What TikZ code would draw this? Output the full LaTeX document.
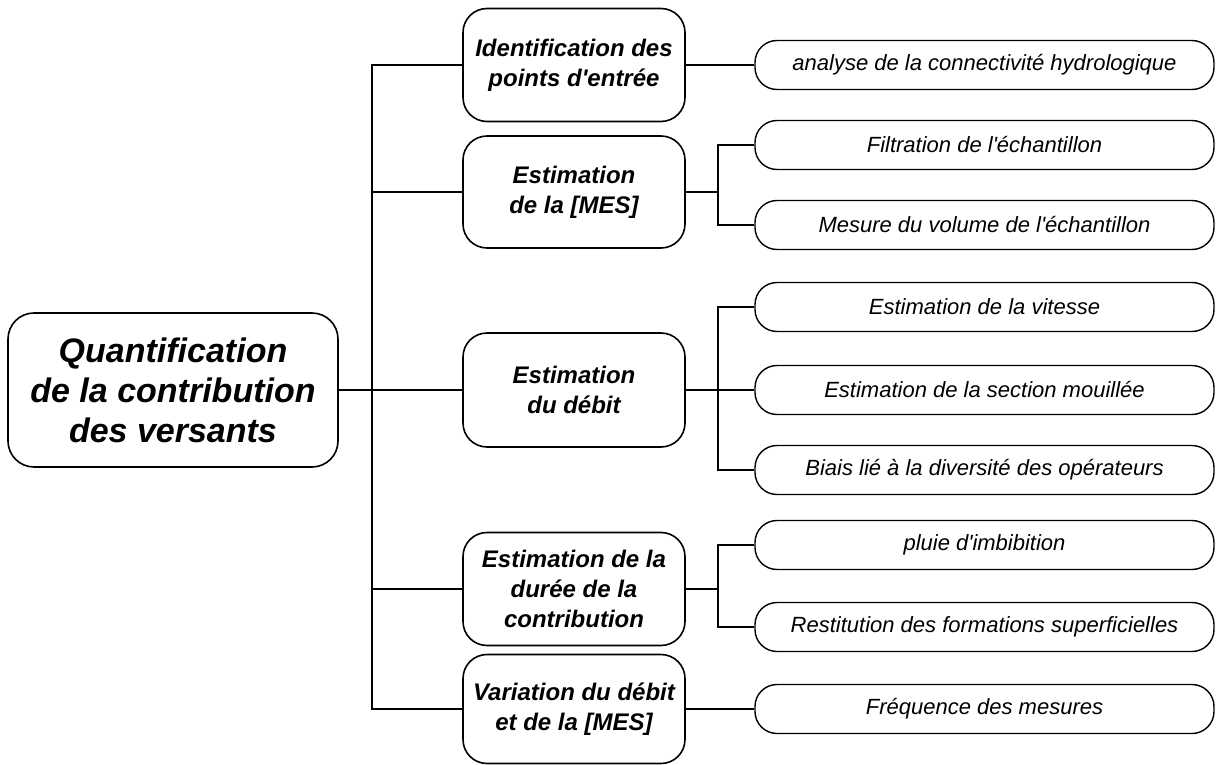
\documentclass[tikz,border=0pt]{standalone}
\usepackage{fontspec}
\newfontfamily\arial{Liberation Sans}
\begin{document}
\begin{tikzpicture}[x=1pt,y=-1pt,
  rootbox/.style={draw,line width=1.6pt,rounded corners=26pt,minimum width=330pt,minimum height=154pt,align=center,inner sep=0pt,
    font=\arial\fontsize{34}{40}\selectfont\bfseries\itshape},
  midbox/.style={draw,line width=1.6pt,rounded corners=24pt,minimum width=222pt,align=center,inner sep=0pt,
    font=\arial\fontsize{24}{30}\selectfont\bfseries\itshape},
  leafbox/.style={draw,line width=1.4pt,rounded corners=22pt,minimum width=459pt,minimum height=49pt,align=center,inner sep=0pt,
    font=\arial\fontsize{22}{26}\selectfont\itshape},
  link/.style={line width=1.3pt}]
\useasboundingbox (0,0) rectangle (1216,765);
\node[rootbox] (root) at (173,390) {Quantification\\de la contribution\\des versants};
\node[midbox,minimum height=113pt] (A) at (574,65) {Identification des\\points d'entrée};
\node[midbox,minimum height=112pt] (B) at (574,192) {Estimation\\de la [MES]};
\node[midbox,minimum height=114pt] (C) at (574,390) {Estimation\\du débit};
\node[midbox,minimum height=113pt] (D) at (574,589) {Estimation de la\\durée de la\\contribution};
\node[midbox,minimum height=109pt] (E) at (574,709) {Variation du débit\\et de la [MES]};
\node[leafbox] (r1) at (984.5,65) {analyse de la connectivité hydrologique};
\node[leafbox] (r2) at (984.5,145) {Filtration de l'échantillon};
\node[leafbox] (r3) at (984.5,225) {Mesure du volume de l'échantillon};
\node[leafbox] (r4) at (984.5,307) {Estimation de la vitesse};
\node[leafbox] (r5) at (984.5,390) {Estimation de la section mouillée};
\node[leafbox] (r6) at (984.5,470) {Biais lié à la diversité des opérateurs};
\node[leafbox] (r7) at (984.5,545) {pluie d'imbibition};
\node[leafbox] (r8) at (984.5,627) {Restitution des formations superficielles};
\node[leafbox] (r9) at (984.5,709) {Fréquence des mesures};
\coordinate (tr) at (372,0);
\coordinate (bus) at (718,0);
% trunk
\draw[link] (A.west) -- (A.west -| tr) -- (E.west -| tr) -- (E.west);
\draw[link] (root.east) -- (C.west);
\draw[link] (B.west) -- (B.west -| tr);
\draw[link] (D.west) -- (D.west -| tr);
% branches
\draw[link] (A.east) -- (r1.west);
\draw[link] (E.east) -- (r9.west);
\draw[link] (B.east) -- (B.east -| bus);
\draw[link] (r2.west) -- (r2.west -| bus) -- (r3.west -| bus) -- (r3.west);
\draw[link] (C.east) -- (r5.west);
\draw[link] (r4.west) -- (r4.west -| bus) -- (r6.west -| bus) -- (r6.west);
\draw[link] (D.east) -- (D.east -| bus);
\draw[link] (r7.west) -- (r7.west -| bus) -- (r8.west -| bus) -- (r8.west);
\end{tikzpicture}
\end{document}
